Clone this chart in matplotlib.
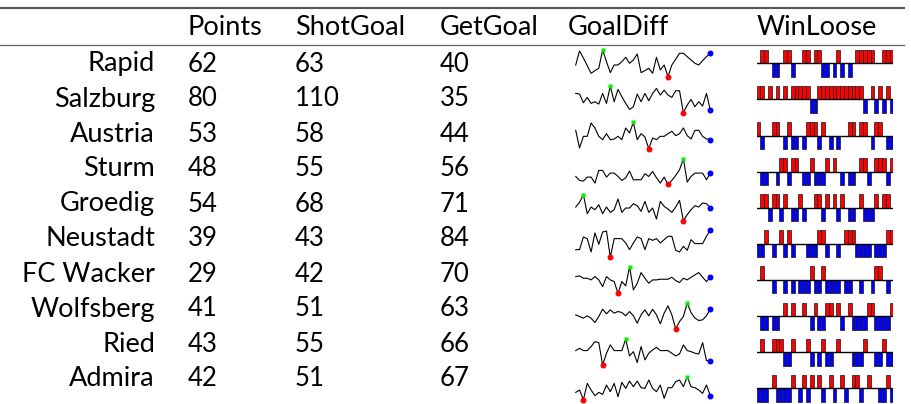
#!/usr/bin/env python3
"""Season table: points / goals plus goal-difference sparklines and win/loose spikes."""
import numpy as np
import matplotlib
matplotlib.use("Agg")
import matplotlib.pyplot as plt

W_PX, H_PX = 911, 404

TEAMS = ["Rapid", "Salzburg", "Austria", "Sturm", "Groedig",
         "Neustadt", "FC Wacker", "Wolfsberg", "Ried", "Admira"]
POINTS = [62, 80, 53, 48, 54, 39, 29, 41, 43, 42]
SHOT_GOAL = [63, 110, 58, 55, 68, 43, 42, 51, 55, 51]
GET_GOAL = [40, 35, 44, 56, 71, 84, 70, 63, 66, 67]
HEADERS = ["Points", "ShotGoal", "GetGoal", "GoalDiff", "WinLoose"]

# goal-difference curve per round (36 rounds)
GOAL_DIFF = [
    [3.5, 7.7, 5.6, 3.3, 1.0, 1.8, 2.5, 8.0, 4.5, 1.2, 3.5, 3.5, 4.5, 5.8, 4.0, 5.0, 6.8, 1.2,
     1.8, 2.5, 1.0, 5.8, 2.0, 3.5, 0.0, 3.5, 5.2, 7.0, 7.0, 6.0, 5.0, 4.0, 3.5, 4.8, 6.0, 7.0],
    [5.8, 5.6, 3.0, 4.6, 2.8, 3.3, 2.6, 5.8, 2.8, 8.0, 3.3, 7.0, 4.8, 2.8, 1.0, 1.8, 5.6, 3.3,
     5.8, 3.6, 5.8, 7.3, 5.3, 6.8, 5.3, 4.6, 6.6, 6.6, 0.0, 2.3, 4.0, 1.8, 3.3, 2.0, 5.8, 0.8],
    [5.5, 0.2, 3.7, 3.7, 7.7, 6.2, 3.7, 2.7, 4.5, 2.7, 2.9, 3.7, 2.7, 6.2, 4.7, 7.9, 2.7, 4.5,
     3.5, 0.0, 3.2, 2.7, 3.7, 3.7, 4.5, 5.2, 3.9, 4.5, 6.2, 3.9, 2.9, 5.5, 5.5, 3.7, 2.9, 2.7],
    [2.4, 1.2, 1.0, 2.2, 2.2, 0.4, 4.2, 4.2, 2.2, 3.4, 3.4, 2.4, 1.2, 2.0, 4.0, 1.4, 1.4, 1.4,
     3.2, 2.4, 3.9, 2.0, 0.4, 2.2, 0.0, 1.2, 2.7, 4.4, 7.7, 0.7, 2.4, 3.4, 3.4, 3.4, 1.4, 3.4],
    [4.1, 5.5, 7.8, 2.1, 4.1, 3.3, 4.8, 2.1, 4.1, 2.5, 3.3, 6.5, 2.5, 3.8, 3.8, 5.1, 4.5, 2.8,
     5.8, 2.5, 3.8, 0.5, 5.8, 4.3, 3.5, 2.5, 4.1, 6.1, 0.0, 1.8, 3.3, 4.5, 4.1, 5.3, 5.1, 3.9],
    [2.3, 2.3, 6.1, 5.6, 1.6, 7.3, 3.9, 7.6, 7.9, 0.0, 5.6, 5.6, 5.6, 4.3, 2.3, 4.3, 6.1, 5.6,
     2.3, 5.6, 5.1, 5.6, 4.3, 5.3, 6.3, 6.3, 2.1, 1.6, 3.3, 2.1, 5.3, 4.1, 4.1, 4.1, 6.3, 8.1],
    [5.0, 5.2, 4.5, 4.5, 4.0, 5.0, 4.0, 2.0, 5.0, 4.0, 3.5, 0.0, 3.5, 2.2, 8.0, 1.0, 3.0, 6.2,
     4.5, 3.0, 4.0, 4.0, 4.2, 4.2, 4.2, 4.8, 3.8, 3.2, 4.5, 4.0, 4.8, 5.5, 6.2, 4.8, 3.5, 4.8],
    [4.2, 3.7, 3.2, 3.9, 3.2, 1.9, 3.7, 5.9, 4.5, 5.7, 4.7, 5.2, 4.9, 3.9, 5.2, 3.9, 1.7, 4.2,
     5.7, 3.9, 5.9, 4.2, 1.5, 4.7, 6.9, 4.2, 0.0, 2.2, 3.7, 7.7, 4.9, 3.2, 2.5, 2.7, 3.9, 5.9],
    [4.3, 5.0, 4.3, 4.3, 5.5, 7.0, 6.7, 0.0, 3.5, 6.0, 4.3, 4.3, 4.3, 7.7, 2.7, 4.0, 0.7, 5.5,
     1.5, 3.5, 4.5, 5.3, 4.3, 4.3, 4.3, 3.5, 2.7, 3.3, 6.0, 4.3, 4.0, 3.5, 3.3, 6.7, 1.3, 1.3],
    [2.2, 2.9, 0.0, 4.9, 2.9, 1.2, 2.2, 1.6, 4.4, 2.4, 4.9, 0.9, 5.2, 3.4, 5.6, 3.9, 5.6, 3.6,
     3.4, 5.9, 3.4, 2.4, 4.4, 0.4, 3.6, 3.6, 5.4, 5.9, 3.9, 6.9, 3.9, 3.6, 2.9, 1.9, 4.4, 1.2],
]

# result per round: W = win, D = draw, L = loss
WIN_LOOSE = [
    "DWWDLLDWWLDDWWDWWLLDLWLDLDWWWWWDDWWW",
    "WWDWDWDWDWWWWWLLWWWWWWWWWWWWLDWLWLWL",
    "WLDDWWDLWLLDLWWWLWDLDLDDWWDWWDLWWDLL",
    "DLLDDLWWLWWDLLWLLLWDWDLDLLDWWLDWWWLW",
    "DWWLWWLWDLLWLDDWWLWDWLWDLLDWLLLWDWWD",
    "LLWDLDWLWLDDDLLLWWLDDLDWWWLLLLDLLLWW",
    "DWDDLDDLDLDLLLWLLWLLLLDLLDDLDDLWWDLD",
    "DLLDLLDWDWDDWDLWLLWWDWLDWLLLLWWLLLLW",
    "DWDDWWWLLWDDDWLDLWLLDWDDDLLLWDDLLWLL",
    "LLLDWLLLLWDLWLWDWLDWLDWLDWWLDWDDLLWL",
]

FONT = ["Lato", "DejaVu Sans"]
FS_WORD, FS_NUM = 19.5, 18.5
TEXT0, TEXT_H = 71.5, 35.0      # baseline of first body row, row pitch (px)
SPARK0, SPARK_H = 63.3, 36.1    # centre line of first sparkline row, pitch (px)
HEAD_Y = 35.0
COL_X = [188, 295, 440, 568, 757]
NAME_R = 155
SPARK_X, SPARK_W = 575.7, 134.6
SPARK_SPAN = 8.2                # data units shown in one sparkline cell
PX_PER_UNIT = 3.33
WL_X, WL_W = 756.7, 136.6


def px_axes(fig, x0, y_top, w, h):
    """Axes placed in pixel coordinates measured from the top-left corner."""
    return fig.add_axes([x0 / W_PX, 1 - (y_top + h) / H_PX, w / W_PX, h / H_PX])


def sparkline(fig, yc, vals):
    v = np.asarray(vals, float)
    h = SPARK_SPAN * PX_PER_UNIT
    ax = px_axes(fig, SPARK_X, yc - h / 2, SPARK_W, h)
    mid = 0.5 * (v.max() + v.min())
    ax.set_xlim(0, len(v) - 1)
    ax.set_ylim(mid - SPARK_SPAN / 2, mid + SPARK_SPAN / 2)
    ax.axis("off")
    x = np.arange(len(v))
    ax.plot(x, v, color="black", lw=0.8, clip_on=False)
    i_hi, i_lo = int(np.argmax(v)), int(np.argmin(v))
    ax.plot(i_hi, v[i_hi], "s", color="#00ee00", ms=3.4, mec="none", clip_on=False)
    ax.plot(i_lo, v[i_lo], "o", color="#ff0000", ms=4.3, mec="none", clip_on=False)
    ax.plot(x[-1], v[-1], "o", color="#0000ff", ms=4.3, mec="none", clip_on=False)


def winloose(fig, yc, res):
    h = 30.0
    ax = px_axes(fig, WL_X, yc - h / 2, WL_W, h)
    ax.set_xlim(0, len(res))
    ax.set_ylim(-h / 2 / 13.5, h / 2 / 13.5)
    ax.axis("off")
    sign = np.array([{"W": 1, "D": 0, "L": -1}[c] for c in res], float)
    idx = np.arange(len(res))
    m = sign != 0
    cols = np.where(sign[m] > 0, "#ff0000", "#0000ff")
    ax.bar(idx[m], sign[m], width=1.0, align="edge", color=cols,
           edgecolor="#222222", lw=0.55)
    ax.plot([0, len(res)], [0, 0], color="black", lw=1.0, zorder=3)


def main():
    fig = plt.figure(figsize=(W_PX / 100, H_PX / 100), dpi=100)
    ax = fig.add_axes([0, 0, 1, 1])
    ax.set_xlim(0, W_PX)
    ax.set_ylim(H_PX, 0)
    ax.axis("off")

    ax.plot([0, 904], [8.0, 8.0], color="#555555", lw=1.5)
    ax.plot([0, 904], [44.5, 44.5], color="#666666", lw=0.9)

    for x, lab in zip(COL_X, HEADERS):
        ax.text(x, HEAD_Y, lab, fontsize=FS_WORD, family=FONT, va="baseline", ha="left")

    for i, team in enumerate(TEAMS):
        y = TEXT0 + i * TEXT_H
        ax.text(NAME_R, y, team, fontsize=FS_WORD, family=FONT, va="baseline", ha="right")
        for x, val in zip(COL_X[:3], (POINTS[i], SHOT_GOAL[i], GET_GOAL[i])):
            ax.text(x, y, str(val), fontsize=FS_NUM, family=FONT, va="baseline", ha="left")
        ys = SPARK0 + i * SPARK_H
        sparkline(fig, ys, GOAL_DIFF[i])
        winloose(fig, ys, WIN_LOOSE[i])

    fig.savefig("out.png", dpi=100)


if __name__ == "__main__":
    main()
